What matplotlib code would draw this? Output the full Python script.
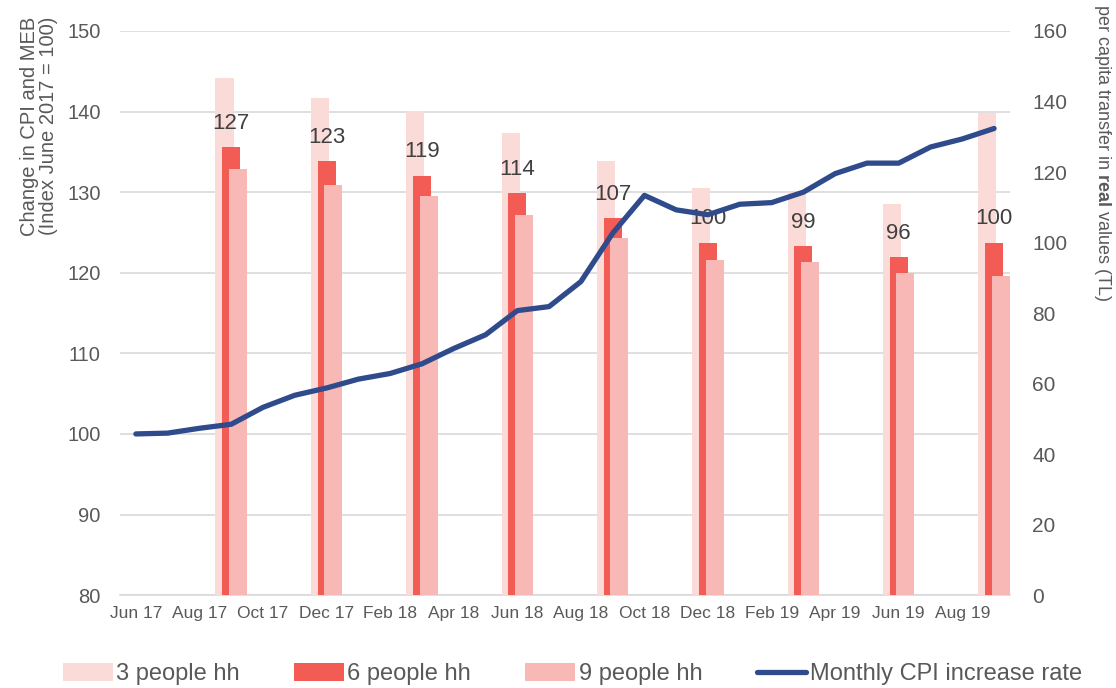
import matplotlib
matplotlib.use('Agg')
import matplotlib.pyplot as plt
import numpy as np

plt.rcParams['font.family'] = ['Liberation Sans', 'DejaVu Sans']
plt.rcParams['mathtext.fontset'] = 'custom'
plt.rcParams['mathtext.bf'] = 'Liberation Sans:bold'
plt.rcParams['mathtext.rm'] = 'Liberation Sans'

# monthly axis, Jun 17 .. Sep 19
months = ['Jun 17', 'Jul 17', 'Aug 17', 'Sep 17', 'Oct 17', 'Nov 17', 'Dec 17',
          'Jan 18', 'Feb 18', 'Mar 18', 'Apr 18', 'May 18', 'Jun 18', 'Jul 18',
          'Aug 18', 'Sep 18', 'Oct 18', 'Nov 18', 'Dec 18', 'Jan 19', 'Feb 19',
          'Mar 19', 'Apr 19', 'May 19', 'Jun 19', 'Jul 19', 'Aug 19', 'Sep 19']

# CPI index (June 2017 = 100), left axis
cpi = [100.0, 100.1, 100.7, 101.2, 103.3, 104.8, 105.7, 106.8, 107.5, 108.7,
       110.6, 112.3, 115.3, 115.8, 118.9, 124.9, 129.6, 127.8, 127.2, 128.5,
       128.7, 130.0, 132.3, 133.6, 133.6, 135.6, 136.6, 137.9]

# quarterly transfer per capita in real values (TL), right axis
bar_months = ['Sep 17', 'Dec 17', 'Mar 18', 'Jun 18', 'Sep 18', 'Dec 18',
              'Mar 19', 'Jun 19', 'Sep 19']
hh3 = [146.8, 141.0, 137.2, 131.0, 123.1, 115.4, 114.2, 110.8, 136.6]
hh6 = [127, 123, 119, 114, 107, 100, 99, 96, 100]
hh9 = [120.9, 116.2, 113.2, 107.9, 101.3, 95.0, 94.4, 91.4, 90.5]

grey = '#595959'
x = np.arange(len(months))
bx = np.array([months.index(m) for m in bar_months])

fig = plt.figure(figsize=(11.16, 6.88), dpi=100)
ax = fig.add_axes([0.1075, 0.135, 0.7975, 0.82])

# left axis: grid + ticks
ax.set_ylim(80, 150)
ax.set_yticks(np.arange(80, 151, 10))
ax.set_xlim(-0.5, len(months) - 0.5)
ax.set_xticks(x[::2])
ax.set_xticklabels(months[::2])
ax.grid(axis='y', color='#d9d9d9', linewidth=1.2)
ax.set_axisbelow(True)
for s in ['top', 'right', 'left']:
    ax.spines[s].set_visible(False)
ax.spines['bottom'].set_color('#d9d9d9')
ax.spines['bottom'].set_linewidth(1.2)
ax.tick_params(axis='both', length=0, colors=grey)
ax.tick_params(axis='y', labelsize=14.5, pad=14)
ax.tick_params(axis='x', labelsize=12.5, pad=8)

# right axis: bars
ax2 = ax.twinx()
ax2.set_ylim(0, 160)
ax2.set_yticks(np.arange(0, 161, 20))
ax2.tick_params(axis='y', length=0, colors=grey, labelsize=15, pad=16)
for s in ax2.spines.values():
    s.set_visible(False)
w = 0.57
ax2.bar(bx - 0.21, hh3, width=w, color='#fadbd8', label='3 people hh', zorder=1)
b6 = ax2.bar(bx, hh6, width=w, color='#f25c54', label='6 people hh', zorder=2)
ax2.bar(bx + 0.21, hh9, width=w, color='#f8b9b6', label='9 people hh', zorder=3)
for rect, v in zip(b6, hh6):
    ax2.annotate(str(v), (rect.get_x() + rect.get_width() / 2, v),
                 xytext=(0, 13), textcoords='offset points',
                 ha='center', va='baseline', fontsize=16, color='#404040', zorder=5)

# line on top, left scale
ax3 = ax.twinx()
ax3.set_ylim(ax.get_ylim())
ax3.axis('off')
ax3.plot(x, cpi, color='#2f4b8c', linewidth=3.8, solid_capstyle='round',
         solid_joinstyle='round', label='Monthly CPI increase rate')

fig.text(39 / 1116, 1 - 126 / 688, 'Change in CPI and MEB\n(Index June 2017 = 100)',
         rotation=90, ha='center', va='center', multialignment='center',
         fontsize=14.5, color=grey, linespacing=1.05)
fig.text(1103 / 1116, 1 - 153 / 688, r'per capita transfer in $\bf{real}$ values (TL)',
         rotation=270, ha='center', va='center', fontsize=13, color=grey)

h2, l2 = ax2.get_legend_handles_labels()
h3, l3 = ax3.get_legend_handles_labels()
fig.legend(h2 + h3, l2 + l3, loc='center', bbox_to_anchor=(0.513, 0.02), ncol=4,
           frameon=False, fontsize=17, labelcolor=grey, handlelength=2.1,
           handleheight=0.75, handletextpad=0.15, columnspacing=2.3)

plt.savefig('out.png', dpi=100)
